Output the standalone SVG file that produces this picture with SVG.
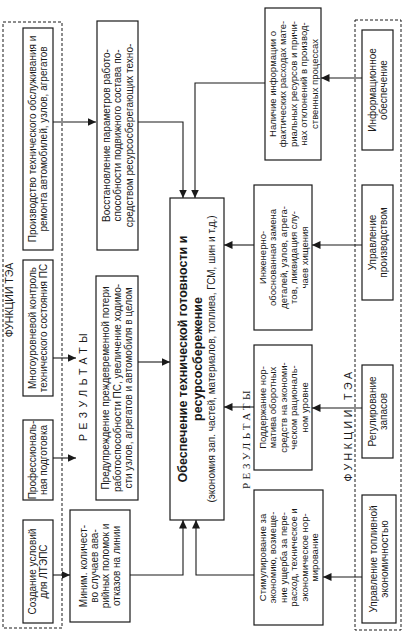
<svg xmlns="http://www.w3.org/2000/svg" width="407" height="636" viewBox="0 0 407 636">
<style>
.bx{fill:#fff;stroke:#1a1a1a;stroke-width:1.2}
.fr{fill:none;stroke:#1a1a1a;stroke-width:1;stroke-dasharray:3 2}
.t{font-family:"Liberation Sans",Arial,sans-serif;font-size:10px;fill:#1a1a1a;text-anchor:middle}
.ts{font-family:"Liberation Sans",Arial,sans-serif;font-size:9.5px;fill:#1a1a1a;text-anchor:middle}
.tb{font-family:"Liberation Sans",Arial,sans-serif;font-size:12.5px;font-weight:bold;fill:#1a1a1a;text-anchor:middle}
.lb{font-family:"Liberation Sans",Arial,sans-serif;font-size:10.5px;fill:#1a1a1a;text-anchor:middle}
.ls{font-family:"Liberation Serif","Times New Roman",serif;font-size:11px;fill:#1a1a1a;text-anchor:middle}
.cn{fill:none;stroke:#1a1a1a;stroke-width:1.1}
</style>
<defs>
<marker id="ah" markerUnits="userSpaceOnUse" markerWidth="9" markerHeight="8" refX="8.5" refY="4" orient="auto">
<path d="M0,0 L8.5,4 L0,8 z" fill="#1a1a1a"/>
</marker>
</defs>
<rect width="407" height="636" fill="#fff"/>

<g id="frame-left">
<rect class="fr" x="3" y="22" width="59" height="606"/>
<text class="lb" transform="translate(9,300) rotate(-90)" y="3.5">ФУНКЦИИ  ТЭА</text>
</g>
<g id="frame-right">
<rect class="fr" x="355" y="20" width="46" height="610"/>
<text class="lb" transform="translate(348,425) rotate(-90)" y="3.5" letter-spacing="3.5">ФУНКЦИИ  ТЭА</text>
</g>

<g id="label-results-left">
<text class="lb" transform="translate(83,385) rotate(-90)" y="3.5" letter-spacing="4.5">РЕЗУЛЬТАТЫ</text>
</g>
<g id="label-results-right">
<text class="ls" transform="translate(246,438) rotate(-90)" y="3.5" letter-spacing="3.5">РЕЗУЛЬТАТЫ</text>
</g>

<g id="connectors">
<path class="cn" d="M53,122 H96" marker-end="url(#ah)"/>
<path class="cn" d="M53,358 H76" marker-end="url(#ah)"/>
<path class="cn" d="M53,458 H76" marker-end="url(#ah)"/>
<path class="cn" d="M53,575 H70" marker-end="url(#ah)"/>
<path class="cn" d="M138,122 H183 V198" marker-end="url(#ah)"/>
<path class="cn" d="M265,83 H195 V198" marker-end="url(#ah)"/>
<path class="cn" d="M138,362 H170" marker-end="url(#ah)"/>
<path class="cn" d="M254,245 H224" marker-end="url(#ah)"/>
<path class="cn" d="M254,407 H224" marker-end="url(#ah)"/>
<path class="cn" d="M130,575 H183 V520" marker-end="url(#ah)"/>
<path class="cn" d="M254,575 H196 V520" marker-end="url(#ah)"/>
<path class="cn" d="M362,78 H321" marker-end="url(#ah)"/>
<path class="cn" d="M362,245 H312" marker-end="url(#ah)"/>
<path class="cn" d="M362,408 H312" marker-end="url(#ah)"/>
<path class="cn" d="M362,577 H323" marker-end="url(#ah)"/>
</g>

<g id="f-production">
<rect class="bx" x="23" y="28" width="30" height="222"/>
<text class="t" transform="translate(38,139) rotate(-90)"><tspan x="0" y="-2">Производство технического обслуживания и</tspan><tspan x="0" y="9">ремонта автомобилей, узлов, агрегатов</tspan></text>
</g>
<g id="f-control">
<rect class="bx" x="23" y="260" width="30" height="136"/>
<text class="t" transform="translate(38,328) rotate(-90)"><tspan x="0" y="-2">Многоуровневой контроль</tspan><tspan x="0" y="9">технического состояния ПС</tspan></text>
</g>
<g id="f-training">
<rect class="bx" x="23" y="420" width="30" height="80"/>
<text class="t" transform="translate(38,460) rotate(-90)"><tspan x="0" y="-2">Профессиональ-</tspan><tspan x="0" y="9">ная подготовка</tspan></text>
</g>
<g id="f-conditions">
<rect class="bx" x="23" y="520" width="30" height="103"/>
<text class="t" transform="translate(38,571.5) rotate(-90)"><tspan x="0" y="-2">Создание условий</tspan><tspan x="0" y="9">для ЛТЭПС</tspan></text>
</g>

<g id="r-restore">
<rect class="bx" x="97" y="21" width="41" height="229"/>
<text class="t" transform="translate(117.5,135.5) rotate(-90)"><tspan x="0" y="-8">Восстановление параметров работо-</tspan><tspan x="0" y="3.5">способности подвижного состава по-</tspan><tspan x="0" y="15">средством ресурсосберегающих техно-</tspan></text>
</g>
<g id="r-prevent">
<rect class="bx" x="96" y="276" width="42" height="224"/>
<text class="t" transform="translate(117,388) rotate(-90)"><tspan x="0" y="-8">Предупреждение преждевременной потери</tspan><tspan x="0" y="3.5">работоспособности ПС, увеличение ходимо-</tspan><tspan x="0" y="15">сти узлов, агрегатов и автомобиля в целом</tspan></text>
</g>
<g id="r-minimum">
<rect class="bx" x="70" y="510" width="60" height="112"/>
<text class="t" transform="translate(100,566) rotate(-90)"><tspan x="0" y="-13">Миним. количест-</tspan><tspan x="0" y="-2">во случаев ава-</tspan><tspan x="0" y="9">рийных поломок и</tspan><tspan x="0" y="20">отказов на линии</tspan></text>
</g>

<g id="center">
<rect class="bx" x="170" y="198" width="54" height="322"/>
<text transform="translate(197,359) rotate(-90)"><tspan class="tb" x="0" y="-10">Обеспечение технической готовности и</tspan><tspan class="tb" x="0" y="4.5">ресурсосбережение</tspan><tspan class="t" x="0" y="18">(экономия зап. частей, материалов, топлива, ГСМ, шин и т.д.)</tspan></text>
</g>

<g id="r-info">
<rect class="bx" x="265" y="8" width="56" height="152"/>
<text class="ts" transform="translate(293,84) rotate(-90)"><tspan x="0" y="-17.5">Наличие информации о</tspan><tspan x="0" y="-7">фактических расходах мате-</tspan><tspan x="0" y="3.5">риальных ресурсов и причи-</tspan><tspan x="0" y="14">нах отклонений в производ-</tspan><tspan x="0" y="24.5">ственных процессах</tspan></text>
</g>
<g id="r-engineering">
<rect class="bx" x="254" y="185" width="58" height="145"/>
<text class="ts" transform="translate(283,257.5) rotate(-90)"><tspan x="0" y="-17.5">Инженерно-</tspan><tspan x="0" y="-7">обоснованная замена</tspan><tspan x="0" y="3.5">деталей, узлов, агрега-</tspan><tspan x="0" y="14">тов, ликвидация слу-</tspan><tspan x="0" y="24.5">чаев хищения</tspan></text>
</g>
<g id="r-norm">
<rect class="bx" x="254" y="345" width="58" height="125"/>
<text class="ts" transform="translate(283,407.5) rotate(-90)"><tspan x="0" y="-17.5">Поддержание нор-</tspan><tspan x="0" y="-7">матива оборотных</tspan><tspan x="0" y="3.5">средств на экономи-</tspan><tspan x="0" y="14">ческом рациональ-</tspan><tspan x="0" y="24.5">ном уровне</tspan></text>
</g>
<g id="r-stimulus">
<rect class="bx" x="254" y="490" width="69" height="135"/>
<text class="ts" transform="translate(288.5,557.5) rotate(-90)"><tspan x="0" y="-22.75">Стимулирование за</tspan><tspan x="0" y="-12.25">экономию, возмеще-</tspan><tspan x="0" y="-1.75">ние ущерба за пере-</tspan><tspan x="0" y="8.75">расход, техническое и</tspan><tspan x="0" y="19.25">экономическое нор-</tspan><tspan x="0" y="29.75">мирование</tspan></text>
</g>

<g id="f-information">
<rect class="bx" x="362" y="30" width="31" height="120"/>
<text class="t" transform="translate(377.5,90) rotate(-90)"><tspan x="0" y="-2">Информационное</tspan><tspan x="0" y="9">обеспечение</tspan></text>
</g>
<g id="f-management">
<rect class="bx" x="362" y="185" width="31" height="115"/>
<text class="t" transform="translate(377.5,242.5) rotate(-90)"><tspan x="0" y="-2">Управление</tspan><tspan x="0" y="9">производством</tspan></text>
</g>
<g id="f-stock">
<rect class="bx" x="362" y="365" width="31" height="93"/>
<text class="t" transform="translate(377.5,411.5) rotate(-90)"><tspan x="0" y="-2">Регулирование</tspan><tspan x="0" y="9">запасов</tspan></text>
</g>
<g id="f-fuel">
<rect class="bx" x="362" y="495" width="34" height="128"/>
<text class="t" transform="translate(379,559) rotate(-90)"><tspan x="0" y="-2">Управление топливной</tspan><tspan x="0" y="9">экономичностью</tspan></text>
</g>
</svg>
